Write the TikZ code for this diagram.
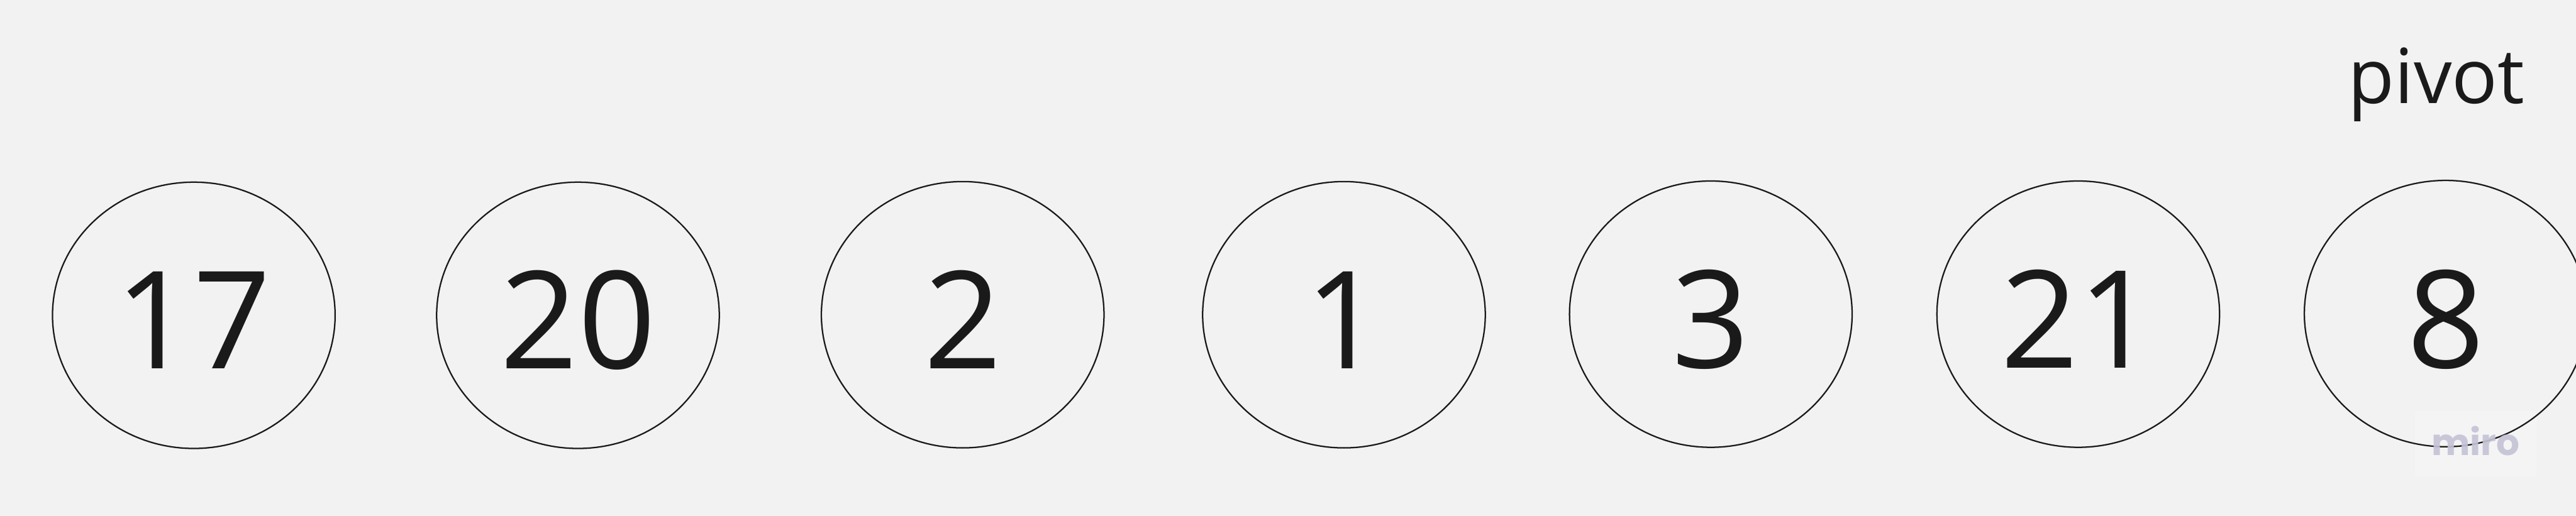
\documentclass[tikz,border=0pt]{standalone}
\usepackage{fontspec}
\setmainfont{Open Sans}
\newfontfamily\wmfont{Poppins}
\definecolor{bg}{HTML}{F2F2F2}
\definecolor{ink}{HTML}{1A1A1A}
\definecolor{wm}{HTML}{C4C3D6}
\definecolor{wmbg}{HTML}{F4F4F4}
\tikzset{
  elem/.style={draw=ink, line width=0.7pt, ellipse, minimum width=4.9cm, minimum height=4.62cm, inner sep=0pt},
  num/.style={anchor=base, text=ink, font=\fontsize{67}{67}\selectfont, inner sep=0pt},
}
\usetikzlibrary{shapes.geometric}
\begin{document}
\begin{tikzpicture}
\fill[bg] (0,0) rectangle (44.66,8.95);
\useasboundingbox (0,0) rectangle (44.66,8.95);
% watermark background
\fill[wmbg] (41.87,0.70) rectangle (43.97,1.82);
% circles
\node[elem] (c1) at (3.36,3.48) {};
\node[elem] (c2) at (10.02,3.48) {};
\node[elem] (c3) at (16.69,3.49) {};
\node[elem] (c4) at (23.30,3.49) {};
\node[elem] (c5) at (29.66,3.50) {};
\node[elem] (c6) at (36.03,3.50) {};
\node[elem] (c7) at (42.40,3.51) {};
% numbers
\node[num] (n1) at (3.35,2.55) {17};
\node[num] (n2) at (10.02,2.55) {20};
\node[num] (n3) at (16.69,2.56) {2};
\node[num] (n4) at (23.30,2.56) {1};
\node[num] (n5) at (29.66,2.57) {3};
\node[num] (n6) at (36.03,2.57) {21};
\node[num] (n7) at (42.40,2.57) {8};
% label
\node[anchor=base, text=ink, font=\fontsize{37.5}{37.5}\selectfont, inner sep=0pt] (pv) at (42.24,7.16) {pivot};
% watermark
\node[anchor=base, text=wm, text opacity=0.9, font=\wmfont\bfseries\fontsize{18}{18}\selectfont, inner sep=0pt] (wm) at (42.92,1.05) {miro};
\end{tikzpicture}
\end{document}
